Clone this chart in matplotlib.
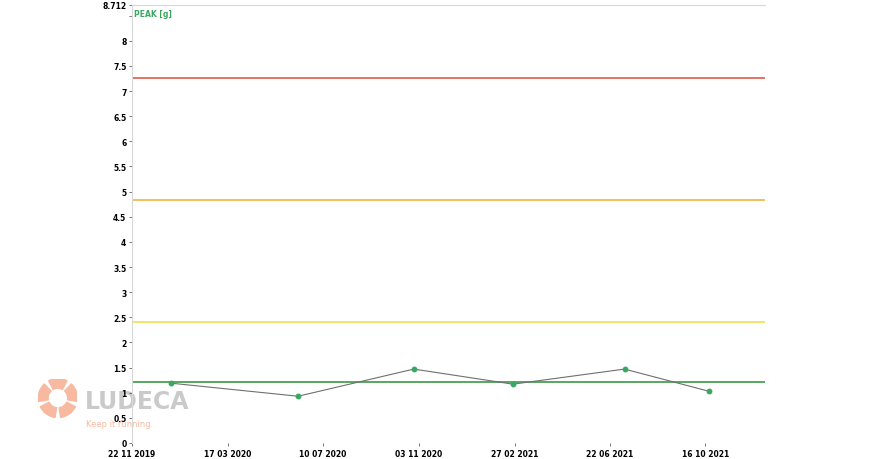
import matplotlib
matplotlib.use("Agg")
import matplotlib.pyplot as plt
import matplotlib.dates as mdates
from matplotlib.patches import Wedge
import numpy as np
import datetime as dt

# measured values (PEAK [g])
dates = ["2020-01-08", "2020-06-10", "2020-10-28", "2021-02-25", "2021-07-10", "2021-10-20"]
peak = [1.19, 0.93, 1.47, 1.17, 1.47, 1.03]

# alarm levels
levels = [7.26, 4.83, 2.41, 1.21]
level_colors = ["#e05a4a", "#f0b43c", "#f2e04a", "#3a9a48"]

tick_dates = ["2019-11-22", "2020-03-17", "2020-07-10", "2020-11-03",
              "2021-02-27", "2021-06-22", "2021-10-16"]
y_ticks = [0, 0.5, 1, 1.5, 2, 2.5, 3, 3.5, 4, 4.5, 5, 5.5, 6, 6.5, 7, 7.5, 8, 8.712]
y_labels = ["0", "0.5", "1", "1.5", "2", "2.5", "3", "3.5", "4", "4.5", "5", "5.5",
            "6", "6.5", "7", "7.5", "8", "8.712"]

x = [dt.datetime.strptime(d, "%Y-%m-%d") for d in dates]
xt = [dt.datetime.strptime(d, "%Y-%m-%d") for d in tick_dates]

fig = plt.figure(figsize=(8.7, 4.6), dpi=100)

# watermark logo (drawn under the chart)
lax = fig.add_axes([0.044, 0.09, 0.045, 0.085], zorder=-2)
lax.set_xlim(-1, 1)
lax.set_ylim(-1, 1)
lax.set_aspect("equal")
lax.axis("off")
for k in range(5):
    a = 90 + k * 72
    lax.add_patch(Wedge((0, 0), 1.0, a - 28, a + 28, width=0.5, color="#f7b9a0"))
fig.text(0.098, 0.126, "LUDECA", fontsize=17, fontweight="bold", color="#cacaca",
         va="center", ha="left", zorder=-1)
fig.text(0.099, 0.078, "Keep it running.", fontsize=6, color="#f7b9a0",
         va="center", ha="left", zorder=-1)

ax = fig.add_axes([0.1517, 0.0348, 0.7276, 0.9522])
ax.patch.set_alpha(0)

for lv, c in zip(levels, level_colors):
    ax.axhline(lv, color=c, lw=1.2, zorder=1)

ax.plot(x, peak, color="#707070", lw=0.8, zorder=2)
ax.plot(x, peak, "o", color="#3aa860", ms=3.2, zorder=3)

ax.set_xlim(dt.datetime(2019, 11, 22), dt.datetime(2021, 12, 27))
ax.set_ylim(0, 8.712)
ax.set_xticks(xt)
ax.xaxis.set_major_formatter(mdates.DateFormatter("%d %m %Y"))
ax.set_yticks(y_ticks)
ax.set_yticklabels(y_labels)
ax.set_yticks([8.5], minor=True)
ax.tick_params(axis="both", labelsize=5.5, length=2, width=0.6, color="#606060", pad=2)
ax.tick_params(axis="y", which="minor", length=2, width=0.6, color="#606060")
for lab in ax.get_xticklabels() + ax.get_yticklabels():
    lab.set_fontweight("bold")

for s in ["right", "bottom"]:
    ax.spines[s].set_visible(False)
ax.spines["left"].set_color("#d8d8d8")
ax.spines["top"].set_color("#d8d8d8")

ax.text(0.003, 0.99, "PEAK [g]", transform=ax.transAxes, fontsize=5.5,
        fontweight="bold", color="#3aa860", va="top", ha="left")

fig.savefig("out.png", dpi=100)
